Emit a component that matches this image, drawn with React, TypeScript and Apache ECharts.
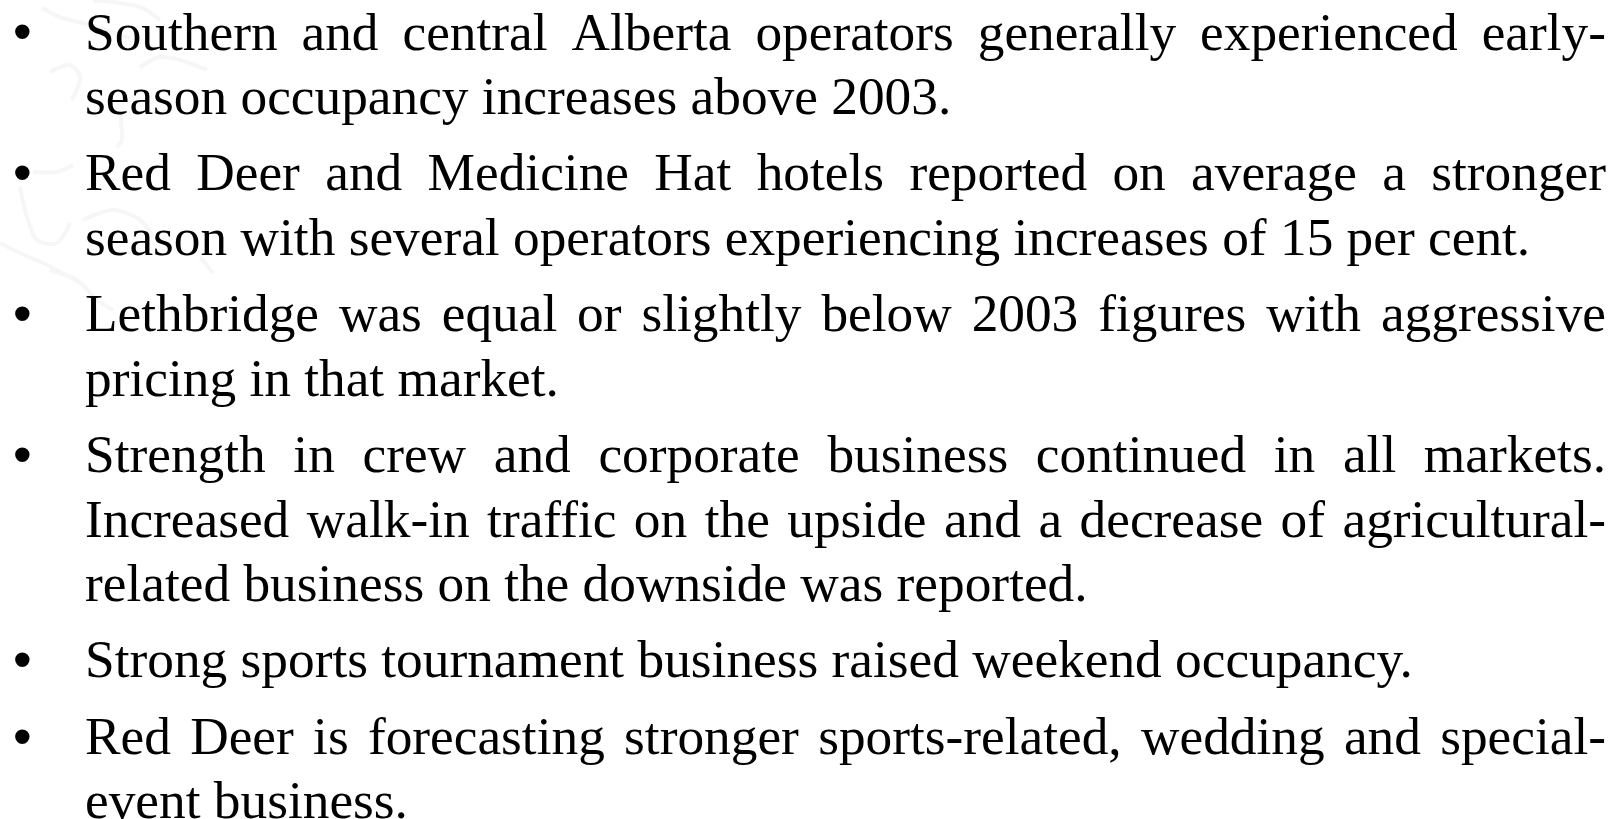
import React, { useEffect, useRef } from "react";
import * as echarts from "echarts";

const paragraphs: string[][] = [
  ["Southern and central Alberta operators generally experienced early-", "season occupancy increases above 2003."],
  ["Red Deer and Medicine Hat hotels reported on average a stronger", "season with several operators experiencing increases of 15 per cent."],
  ["Lethbridge was equal or slightly below 2003 figures with aggressive", "pricing in that market."],
  [
    "Strength in crew and corporate business continued in all markets.",
    "Increased walk-in traffic on the upside and a decrease of agricultural-",
    "related business on the downside was reported.",
  ],
  ["Strong sports tournament business raised weekend occupancy."],
  ["Red Deer is forecasting stronger sports-related, wedding and special-", "event business."],
];

const mapTraces: number[][][] = [
  [[42, 8], [60, 17], [90, 25], [130, 38]],
  [[93, 0], [140, 7], [160, 20]],
  [[50, 72], [70, 65], [80, 77], [72, 100]],
  [[120, 113], [122, 140], [117, 147]],
  [[140, 67], [160, 57], [180, 60], [207, 70]],
  [[33, 172], [57, 172], [73, 165]],
  [[20, 187], [27, 217], [37, 240], [57, 243], [70, 223]],
  [[0, 243], [20, 253], [43, 263], [80, 283]],
  [[83, 220], [113, 210], [140, 220], [153, 237]],
  [[200, 257], [213, 273]],
  [[50, 270], [77, 280], [97, 300], [113, 310]],
];

const FONT_SIZE = 53.33;
const FONT = `${FONT_SIZE}px "Liberation Serif"`;
const BULLET_FONT = `${FONT_SIZE}px "Liberation Sans"`;
const LEFT = 85;
const RIGHT = 1606;
const BULLET_X = 13;
const FIRST_BASELINE = 50;
const LINE_STEP = 64.3;
const PARA_STEP = 76.6;
const BASELINE_SHIFT = 18.5;

function buildTexts() {
  const ctx = document.createElement("canvas").getContext("2d")!;
  ctx.font = FONT;
  const elements: any[] = [];
  const text = (t: string, x: number, baseline: number, font = FONT) => ({
    type: "text",
    x,
    y: baseline - BASELINE_SHIFT,
    z: 2,
    style: { text: t, font, fill: "#000000", textAlign: "left", textVerticalAlign: "middle", verticalAlign: "middle" },
  });
  let y = FIRST_BASELINE;
  paragraphs.forEach((lines, p) => {
    if (p > 0) y += PARA_STEP;
    elements.push(text("•", BULLET_X, y, BULLET_FONT));
    lines.forEach((line, i) => {
      if (i > 0) y += LINE_STEP;
      if (i === lines.length - 1) {
        elements.push(text(line, LEFT, y));
        return;
      }
      const words = line.split(" ");
      const sum = words.reduce((acc, w) => acc + ctx.measureText(w).width, 0);
      const gap = (RIGHT - LEFT - sum) / (words.length - 1);
      let x = LEFT;
      words.forEach((w) => {
        elements.push(text(w, x, y));
        x += ctx.measureText(w).width + gap;
      });
    });
  });
  return elements;
}

export default function App() {
  const ref = useRef<HTMLDivElement>(null);
  useEffect(() => {
    const chart = echarts.init(ref.current!, null, { renderer: "svg" });
    const traces = mapTraces.map((points) => ({
      type: "polyline",
      z: 1,
      shape: { points, smooth: 0.3 },
      style: { stroke: "#f6f6f6", lineWidth: 4, fill: "none" },
    }));
    chart.setOption({
      animation: false,
      backgroundColor: "#ffffff",
      graphic: { elements: [...traces, ...buildTexts()] },
    });
    return () => chart.dispose();
  }, []);
  return <div ref={ref} style={{ position: "fixed", left: 0, top: 0, width: 1615, height: 819 }} />;
}
